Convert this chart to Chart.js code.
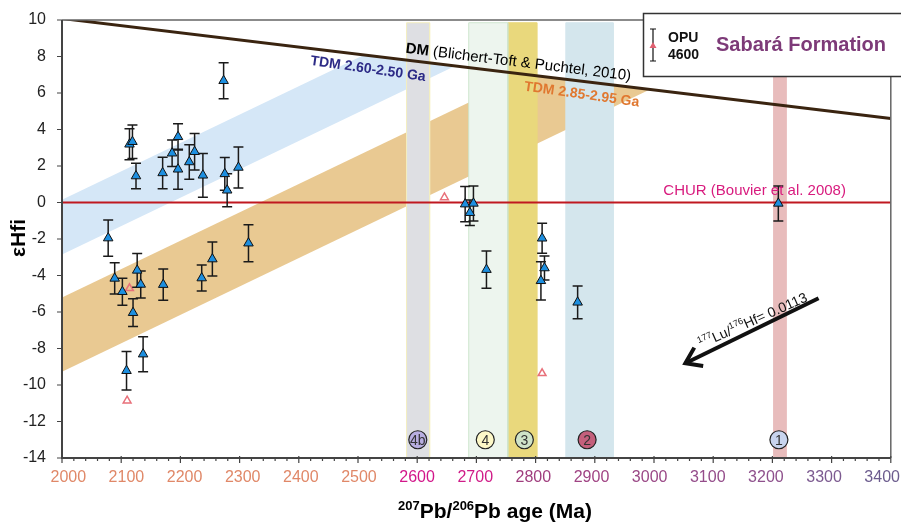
<!DOCTYPE html>
<html>
<head>
<title>Sabara Formation eHf</title>
<script src="https://cdn.jsdelivr.net/npm/chart.js@4.4.1/dist/chart.umd.min.js"></script>
<style>body{margin:0;background:#fff}</style>
</head>
<body>
<canvas id="chart" width="901" height="523"></canvas>
<script>
// zircon analyses (age Ma, eHf(t), 2 sigma)
var ages = [2114,2119,2125,2170,2186,2196,2196,2215,2224,2238,2275,2279,2298,2273,
            2078,2089,2102,2120,2127,2133,2109,2137,2171,2236,2254,2315,
            2681,2695,2689,2717,2811,2815,2809,2871,3210];
var ehf = [3.19,3.33,1.45,1.62,2.70,3.60,1.82,2.22,2.78,1.49,1.57,0.67,1.92,6.67,
           -1.95,-4.16,-4.89,-6.04,-3.72,-4.49,-9.22,-8.31,-4.50,-4.14,-3.10,-2.23,
           -0.09,-0.05,-0.56,-3.68,-1.96,-3.59,-4.29,-5.47,-0.05];
var errs = [0.85,0.92,0.70,0.86,0.73,0.72,1.10,0.95,1.00,1.20,0.90,0.90,1.12,0.99,
            0.99,0.86,0.74,0.76,0.93,0.74,1.06,0.96,0.86,0.71,0.93,1.01,
            0.96,0.96,0.70,1.02,0.82,0.66,1.05,0.90,0.96];

// open red triangles
var openAges = [2114,2110,2646,2811];
var openEhf = [-4.70,-10.86,0.28,-9.36];

// source zones (vertical bands)
var zoneNames = ['4b','4','3','2','1'];
var zoneMid = [2601,2715,2781,2887,3211];
var zoneFrom = [2582,2687,2753,2851,3202];
var zoneTo = [2621,2753,2802,2931,3223];
var zoneTop = 9.85;
var zoneLabelY = -13;

// reference lines and TDM bands
var dmAges = [2000,3400], dmVals = [10.08,4.6];
var churAges = [2000,3400], churVals = [0,0];
var blueUpAges = [2000,2510,2664], blueUpVals = [0.15,8.08,7.48];
var blueLoAges = [2000,2664], blueLoVals = [-2.85,7.48];
var orUpAges = [2000,2784,2993], orUpVals = [-5.2,6.99,6.19];
var orLoAges = [2000,2993], orLoVals = [-9.27,6.19];

var xTickValues = [2000,2100,2200,2300,2400,2500,2600,2700,2800,2900,3000,3100,3200,3300,3400];

var FONT = '"Liberation Sans", Arial, sans-serif';
var tickColors = {2600:'#d2168a',2700:'#d01c88',2800:'#a03e7e',2900:'#a04484',3000:'#9a4886',
                  3100:'#944c8a',3200:'#8e508c',3300:'#7c5a90',3400:'#6c5c8e'};
var zoneColors = ['#dedfe3','#edf5ee','#e9d87c','#d4e6ed','#e8bcbc'];
var zoneBorders = ['#f3eec0','#cfe6cf','#e9d87c','#d4e6ed','#e8bcbc'];
var circleColors = ['#b8aee0','#fdf8c8','#cfe3c8','#c4607c','#c8d4ee'];

function pts(xs, ys) {
    return xs.map(function(x, i) { return {x: x, y: ys[i]}; });
}

function lineSet(data, color, width, order, extra) {
    var d = {type:'line', data:data, borderColor:color, borderWidth:width, pointRadius:0,
             tension:0, fill:false, order:order};
    for (var k in extra) d[k] = extra[k];
    return d;
}

var datasets = [
    {type:'scatter', data:pts(ages, ehf), pointStyle:'triangle', pointRadius:5.5,
     backgroundColor:'#1d8fe0', borderColor:'#111', borderWidth:1, order:0},
    {type:'scatter', data:pts(openAges, openEhf), pointStyle:'triangle', pointRadius:4.5,
     backgroundColor:'rgba(255,255,255,0)', borderColor:'#e8707a', borderWidth:1.5, order:1},
    {type:'scatter', data:pts(zoneMid, zoneMid.map(function(){ return zoneLabelY; })), pointStyle:'circle',
     pointRadius:9, backgroundColor:circleColors, borderColor:'#222', borderWidth:1.2, order:2},
    lineSet(pts(dmAges, dmVals), '#3a2410', 3, 3, {clip:0}),
    lineSet(pts(churAges, churVals), '#c01820', 2, 4, {})
];
zoneNames.forEach(function(n, i) {
    datasets.push(lineSet([{x:zoneFrom[i],y:-14},{x:zoneFrom[i],y:zoneTop},{x:zoneTo[i],y:zoneTop},{x:zoneTo[i],y:-14}],
        zoneBorders[i], 1, 5, {fill:'start', backgroundColor:zoneColors[i]}));
});
datasets.push(lineSet(pts(orUpAges, orUpVals), 'rgba(0,0,0,0)', 0, 10, {}));
datasets.push(lineSet(pts(orLoAges, orLoVals), 'rgba(0,0,0,0)', 0, 10, {fill:'-1', backgroundColor:'#e9c992'}));
datasets.push(lineSet(pts(blueUpAges, blueUpVals), 'rgba(0,0,0,0)', 0, 10, {}));
datasets.push(lineSet(pts(blueLoAges, blueLoVals), 'rgba(0,0,0,0)', 0, 10, {fill:'-1', backgroundColor:'#d5e7f7'}));

function rich(ctx, parts) {
    var w = 0;
    parts.forEach(function(p) { ctx.font = p.f; w += ctx.measureText(p.t).width; });
    return w;
}
function drawRich(ctx, parts, x, y) {
    parts.forEach(function(p) {
        ctx.font = p.f;
        ctx.fillText(p.t, x, y + (p.dy || 0));
        x += ctx.measureText(p.t).width;
    });
}
function rotatedText(ctx, parts, cx, cy, deg, color) {
    ctx.save();
    ctx.translate(cx, cy);
    ctx.rotate(deg * Math.PI / 180);
    ctx.fillStyle = color;
    ctx.textAlign = 'left';
    ctx.textBaseline = 'alphabetic';
    drawRich(ctx, parts, -rich(ctx, parts) / 2, 0);
    ctx.restore();
}

var decor = {
    id: 'decor',
    beforeDatasetDraw: function(chart, args) {
        if (args.index !== 0) return;
        var ctx = chart.ctx, xs = chart.scales.x, ys = chart.scales.y;
        ctx.save();
        ctx.strokeStyle = '#1a1a1a';
        ctx.lineWidth = 1.5;
        for (var i = 0; i < ages.length; i++) {
            var px = xs.getPixelForValue(ages[i]);
            var t = ys.getPixelForValue(ehf[i] + errs[i]);
            var b = ys.getPixelForValue(ehf[i] - errs[i]);
            ctx.beginPath();
            ctx.moveTo(px, t); ctx.lineTo(px, b);
            ctx.moveTo(px - 5, t); ctx.lineTo(px + 5, t);
            ctx.moveTo(px - 5, b); ctx.lineTo(px + 5, b);
            ctx.stroke();
        }
        ctx.restore();
    },
    afterDatasetsDraw: function(chart) {
        var ctx = chart.ctx, xs = chart.scales.x, ys = chart.scales.y, a = chart.chartArea;
        ctx.save();
        // frame
        ctx.strokeStyle = '#666'; ctx.lineWidth = 1.5;
        ctx.beginPath();
        ctx.moveTo(a.left, a.top); ctx.lineTo(a.right, a.top); ctx.lineTo(a.right, a.bottom);
        ctx.stroke();
        ctx.strokeStyle = '#444'; ctx.lineWidth = 2;
        ctx.beginPath();
        ctx.moveTo(a.left, a.top); ctx.lineTo(a.left, a.bottom); ctx.lineTo(a.right, a.bottom);
        ctx.stroke();
        // ticks
        ctx.lineWidth = 1.2;
        ctx.beginPath();
        for (var v = 2000; v <= 3400; v += 20) {
            var px = xs.getPixelForValue(v);
            var major = v % 100 === 0;
            ctx.moveTo(px, a.bottom - (major ? 2 : 0));
            ctx.lineTo(px, a.bottom + (major ? 5 : 3));
        }
        for (var y = -14; y <= 10; y += 2) {
            var py = ys.getPixelForValue(y);
            ctx.moveTo(a.left - 5, py); ctx.lineTo(a.left, py);
        }
        ctx.stroke();

        // x tick labels (slightly compressed toward 2600, as in the source figure)
        var pivot = xs.getPixelForValue(2590);
        ctx.font = '16px ' + FONT;
        ctx.textAlign = 'center'; ctx.textBaseline = 'middle';
        xTickValues.forEach(function(v) {
            var p = xs.getPixelForValue(v);
            ctx.fillStyle = tickColors[v] || '#e08868';
            ctx.fillText(String(v), pivot + (p - pivot) * 0.982, a.bottom + 20);
        });

        // zone labels
        ctx.fillStyle = '#333';
        ctx.font = '14px ' + FONT;
        zoneNames.forEach(function(n, i) {
            ctx.fillText(n, xs.getPixelForValue(zoneMid[i]), ys.getPixelForValue(zoneLabelY) + 1);
        });

        // line labels
        rotatedText(ctx, [{t:'DM', f:'bold 15px ' + FONT}, {t:' (Blichert-Toft & Puchtel, 2010)', f:'15px ' + FONT}],
            xs.getPixelForValue(2770), ys.getPixelForValue(7.45), 7, '#000');
        rotatedText(ctx, [{t:'TDM 2.60-2.50 Ga', f:'bold 14px ' + FONT}],
            xs.getPixelForValue(2516), ys.getPixelForValue(7.1), 8, '#2c2a86');
        rotatedText(ctx, [{t:'TDM 2.85-2.95 Ga', f:'bold 14px ' + FONT}],
            xs.getPixelForValue(2877), ys.getPixelForValue(5.7), 8, '#e07830');
        rotatedText(ctx, [{t:'CHUR (Bouvier et al. 2008)', f:'15px ' + FONT}],
            xs.getPixelForValue(3170), ys.getPixelForValue(0.4), 0, '#d81b7e');

        // Lu/Hf arrow
        var x0 = xs.getPixelForValue(3278), y0 = ys.getPixelForValue(-5.25);
        var x1 = xs.getPixelForValue(3053), y1 = ys.getPixelForValue(-8.81);
        var ang = Math.atan2(y1 - y0, x1 - x0);
        ctx.strokeStyle = '#111'; ctx.lineWidth = 4; ctx.lineCap = 'butt';
        ctx.beginPath(); ctx.moveTo(x0, y0); ctx.lineTo(x1, y1); ctx.stroke();
        ctx.lineJoin = 'miter';
        ctx.beginPath();
        ctx.moveTo(x1 + 18 * Math.cos(ang + Math.PI - 0.6), y1 + 18 * Math.sin(ang + Math.PI - 0.6));
        ctx.lineTo(x1, y1);
        ctx.lineTo(x1 + 18 * Math.cos(ang + Math.PI + 0.6), y1 + 18 * Math.sin(ang + Math.PI + 0.6));
        ctx.stroke();
        rotatedText(ctx, [{t:'177', f:'9px ' + FONT, dy:-6}, {t:'Lu/', f:'14px ' + FONT},
                          {t:'176', f:'9px ' + FONT, dy:-6}, {t:'Hf= 0.0113', f:'14px ' + FONT}],
            xs.getPixelForValue(3170), ys.getPixelForValue(-6.7), -24, '#111');
        ctx.restore();
    },
    afterDraw: function(chart) {
        var ctx = chart.ctx;
        ctx.save();
        // legend box
        ctx.fillStyle = '#fff';
        ctx.fillRect(643.5, 13.5, 270, 63);
        ctx.strokeStyle = '#333'; ctx.lineWidth = 1.5;
        ctx.strokeRect(643.5, 13.5, 270, 63);
        ctx.strokeStyle = '#111'; ctx.lineWidth = 1.2;
        ctx.beginPath();
        ctx.moveTo(653, 29); ctx.lineTo(653, 61);
        ctx.moveTo(650, 29); ctx.lineTo(656, 29);
        ctx.moveTo(650, 61); ctx.lineTo(656, 61);
        ctx.stroke();
        ctx.fillStyle = '#e06070';
        ctx.beginPath(); ctx.moveTo(653, 42); ctx.lineTo(656.5, 48); ctx.lineTo(649.5, 48); ctx.closePath(); ctx.fill();
        ctx.fillStyle = '#111';
        ctx.textAlign = 'left'; ctx.textBaseline = 'middle';
        ctx.font = 'bold 14px ' + FONT;
        ctx.fillText('OPU', 668, 38);
        ctx.fillText('4600', 668, 55);
        ctx.fillStyle = '#7d3a78';
        ctx.font = 'bold 20px ' + FONT;
        ctx.fillText('Sabará Formation', 716, 45);

        // axis titles
        ctx.fillStyle = '#000';
        ctx.textBaseline = 'alphabetic';
        var xt = [{t:'207', f:'bold 13px ' + FONT, dy:-8}, {t:'Pb/', f:'bold 21px ' + FONT},
                  {t:'206', f:'bold 13px ' + FONT, dy:-8}, {t:'Pb age (Ma)', f:'bold 21px ' + FONT}];
        drawRich(ctx, xt, 495 - rich(ctx, xt) / 2, 518);
        ctx.translate(25, 238);
        ctx.rotate(-Math.PI / 2);
        ctx.textAlign = 'center';
        ctx.font = 'bold 21px ' + FONT;
        ctx.fillText('\u03b5Hfi', 0, 0);
        ctx.restore();
    }
};

new Chart(document.getElementById('chart').getContext('2d'), {
    type: 'scatter',
    data: {datasets: datasets},
    options: {
        responsive: false,
        animation: false,
        events: [],
        layout: {padding: {top: 20, right: 10, left: 0, bottom: 0}},
        plugins: {legend: {display: false}, tooltip: {enabled: false}},
        scales: {
            x: {
                type: 'linear', min: 2000, max: 3400,
                afterFit: function(s) { s.height = 65; s.paddingLeft = 0; s.paddingRight = 0; },
                afterBuildTicks: function(s) { s.ticks = xTickValues.map(function(v) { return {value: v}; }); },
                ticks: {display: false},
                grid: {display: false}, border: {display: false}
            },
            y: {
                min: -14, max: 10,
                afterFit: function(s) { s.width = 62; s.paddingTop = 0; s.paddingBottom = 0; },
                ticks: {stepSize: 2, padding: 8, font: {family: FONT, size: 16}, color: '#222'},
                grid: {display: false}, border: {display: false}
            }
        }
    },
    plugins: [decor]
});
</script>
</body>
</html>
